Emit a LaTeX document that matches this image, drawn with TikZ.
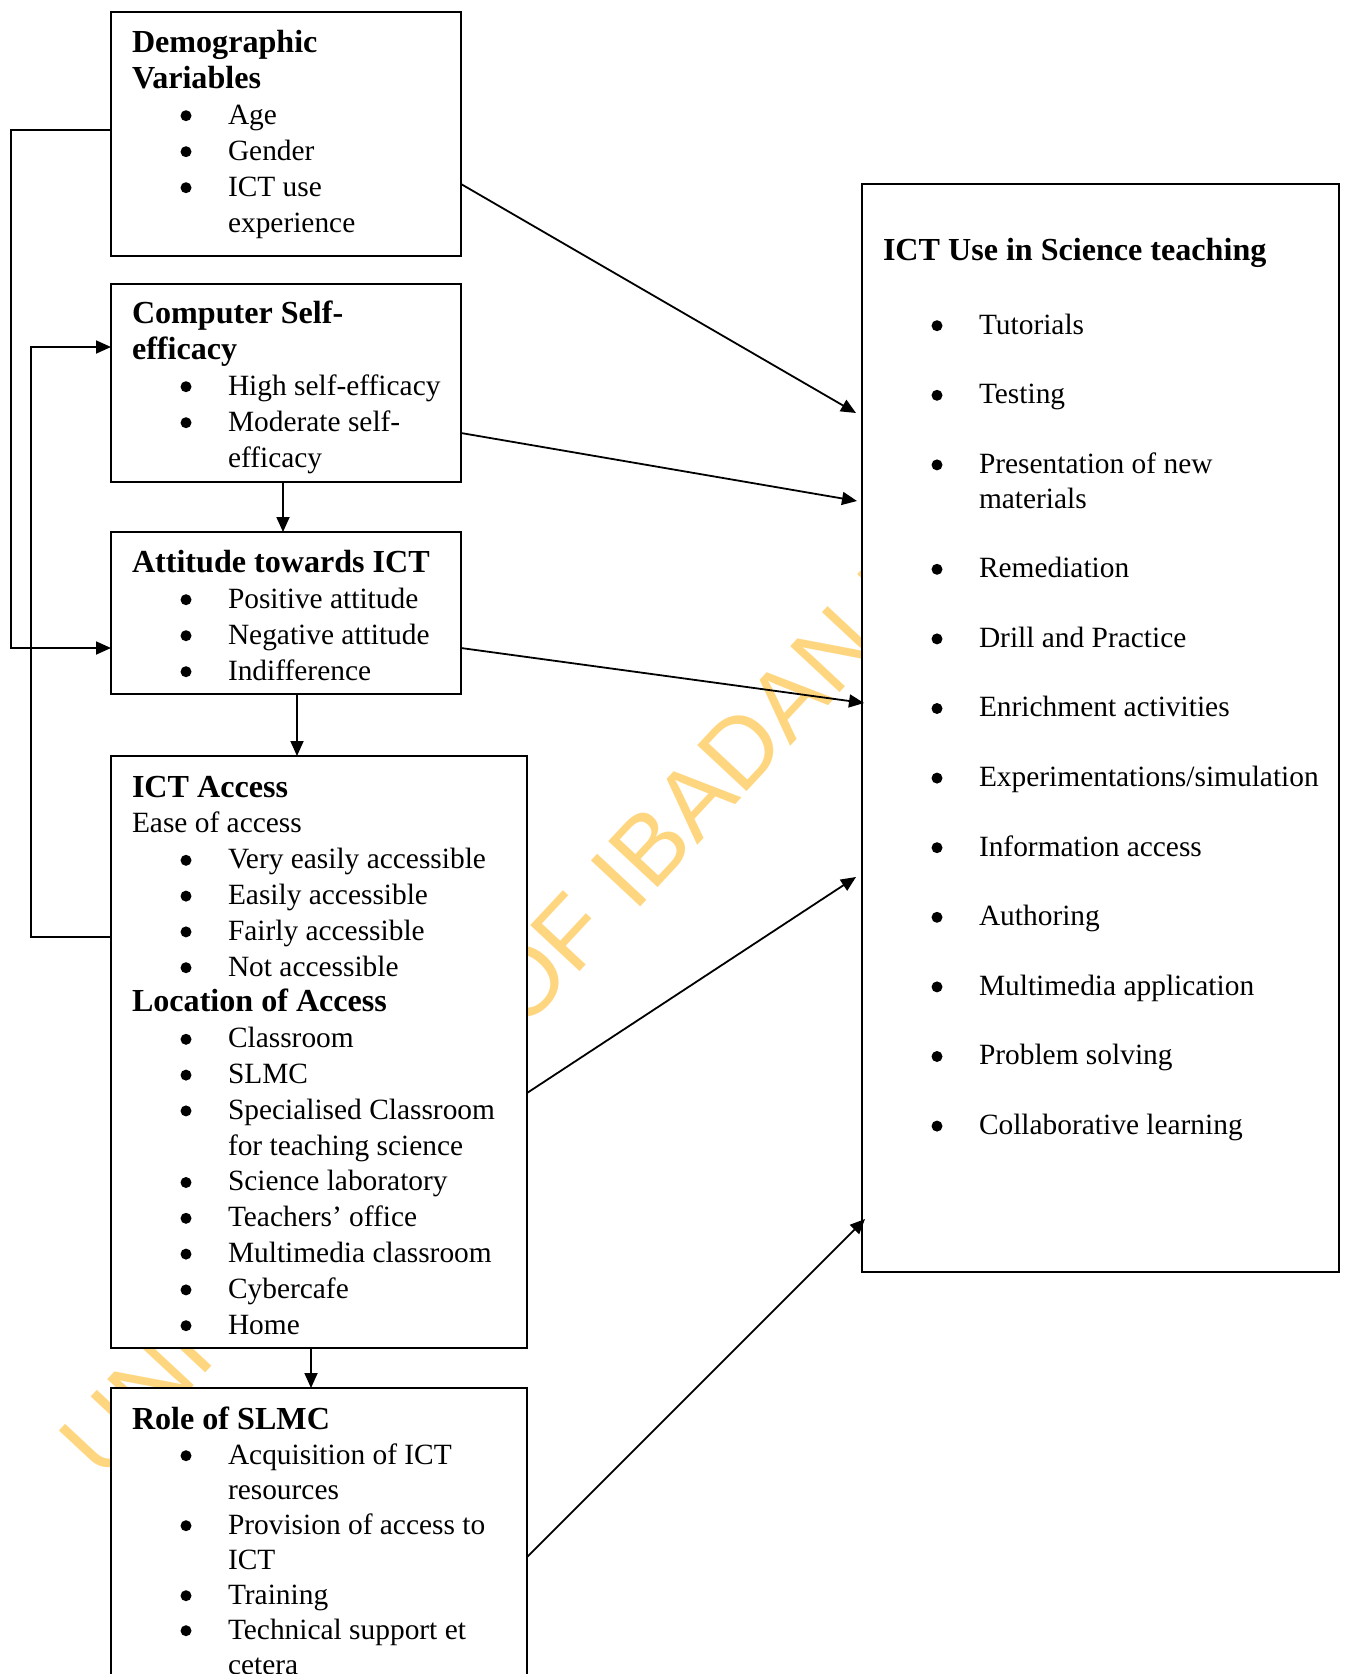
\documentclass[tikz,border=0pt]{standalone}
\usepackage{fontspec}
\setmainfont{Liberation Serif}
\newfontfamily\wmfont{Liberation Sans}
\usetikzlibrary{arrows.meta}
\definecolor{wmcol}{RGB}{255,214,128}
\newcommand\bdot{\tikz[baseline=0pt]\fill (0pt,8.3pt) circle[radius=5.5pt];}
\newcommand\HD[1]{\hbox{\fontsize{32.1}{36}\selectfont\bfseries #1}}
\newcommand\TX[1]{\hbox{#1}}
\newcommand\BL[1]{\hbox{\kern54pt\makebox[0pt]{\bdot}\kern42pt #1}}
\newcommand\CT[1]{\hbox{\kern96pt #1}}
\newcommand\blk[2]{\vtop{\fontsize{29.4}{#1}\selectfont\lineskiplimit=-1000pt\lineskip=0pt #2}}
\begin{document}
\begin{tikzpicture}[x=1pt,y=-1pt,
  box/.style={draw, fill=white, line width=1.8pt, inner sep=0pt, outer sep=0pt, anchor=north west},
  arr/.style={line width=1.8pt, -{Triangle[length=15pt,width=13pt]}},
  txt/.style={anchor=base west, inner sep=0pt, outer sep=0pt}]
\useasboundingbox (0,0) rectangle (1346,1674);
\clip (0,0) rectangle (1346,1674);
% watermark
\node[anchor=base west, inner sep=0pt, rotate=47, text=wmcol,
      font=\wmfont\fontsize{98}{100}\selectfont] (wmark) at (103,1483) {UNIVERSITY OF IBADAN LIBRARY};
% boxes
\node[box, minimum width=350pt, minimum height=244pt] (demo) at (111,12) {};
\node[box, minimum width=350pt, minimum height=198pt] (cse) at (111,284) {};
\node[box, minimum width=350pt, minimum height=162pt] (att) at (111,532) {};
\node[box, minimum width=416pt, minimum height=592pt] (acc) at (111,756) {};
\node[box, minimum width=416pt, minimum height=330pt] (role) at (111,1388) {};
\node[box, minimum width=477pt, minimum height=1088pt] (ict) at (862,184) {};
% texts
\node[txt] (demoT) at (132,52) {\blk{36pt}{\HD{Demographic}\HD{Variables}\BL{Age}\BL{Gender}\BL{ICT use}\CT{experience}}};
\node[txt] (cseT) at (132,323) {\blk{36pt}{\HD{Computer Self-}\HD{efficacy}\BL{High self-efficacy}\BL{Moderate self-}\CT{efficacy}}};
\node[txt] (attT) at (132,572) {\blk{36pt}{\HD{Attitude towards ICT}\BL{Positive attitude}\BL{Negative attitude}\BL{Indifference}}};
\node[txt] (accT) at (132,797) {\blk{35.8pt}{\HD{ICT Access}\TX{Ease of access}\BL{Very easily accessible}\BL{Easily accessible}\BL{Fairly accessible}\BL{Not accessible}\HD{Location of Access}\BL{Classroom}\BL{SLMC}\BL{Specialised Classroom}\CT{for teaching science}\BL{Science laboratory}\BL{Teachers’ office}\BL{Multimedia classroom}\BL{Cybercafe}\BL{Home}}};
\node[txt] (roleT) at (132,1429) {\blk{35pt}{\HD{Role of SLMC}\BL{Acquisition of ICT}\CT{resources}\BL{Provision of access to}\CT{ICT}\BL{Training}\BL{Technical support et}\CT{cetera}}};
\node[txt] (ictH) at (883,260) {\blk{34.8pt}{\HD{ICT Use in Science teaching}}};
\node[txt] (ictL) at (883,334) {\blk{34.8pt}{\BL{Tutorials}\TX{}\BL{Testing}\TX{}\BL{Presentation of new}\CT{materials}\TX{}\BL{Remediation}\TX{}\BL{Drill and Practice}\TX{}\BL{Enrichment activities}\TX{}\BL{Experimentations/simulation}\TX{}\BL{Information access}\TX{}\BL{Authoring}\TX{}\BL{Multimedia application}\TX{}\BL{Problem solving}\TX{}\BL{Collaborative learning}}};
% connector end points
\coordinate (t1) at (856,413);
\coordinate (t2) at (857,501);
\coordinate (t3) at (864,703);
\coordinate (t4) at (856,877);
\coordinate (t5) at (865,1219);
\coordinate (o1) at (11,130);
\coordinate (i1) at (31,937);
% diagonal arrows
\draw[arr] (demo.east |- 0,184) -- (t1);
\draw[arr] (cse.east |- 0,433) -- (t2);
\draw[arr] (att.east |- 0,648) -- (t3);
\draw[arr] (acc.east |- 0,1093) -- (t4);
\draw[arr] (role.east |- 0,1557) -- (t5);
% vertical arrows
\draw[arr] (cse.south -| 283,0) -- (att.north -| 283,0);
\draw[arr] (att.south -| 297,0) -- (acc.north -| 297,0);
\draw[arr] (acc.south -| 311,0) -- (role.north -| 311,0);
% feedback loops
\draw[arr] (demo.west |- 0,130) -- (o1) |- (att.west |- 0,648);
\draw[arr] (acc.west |- 0,937) -- (i1) |- (cse.west |- 0,347);
\end{tikzpicture}
\end{document}
